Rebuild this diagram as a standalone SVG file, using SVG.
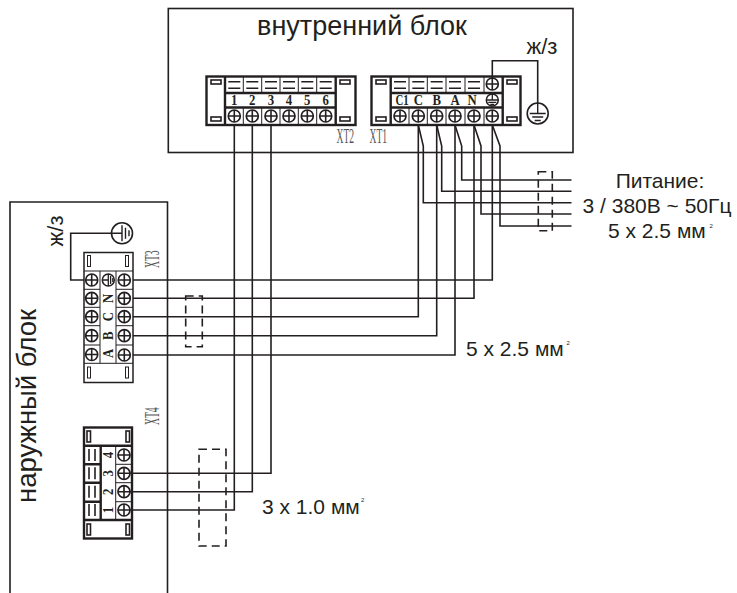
<svg xmlns="http://www.w3.org/2000/svg" width="737" height="593" viewBox="0 0 737 593">
<style>
.w{fill:none;stroke:#231f20;stroke-width:1.6}
.b{fill:none;stroke:#231f20;stroke-width:2.4}
.t{fill:none;stroke:#231f20;stroke-width:1}
.d{fill:none;stroke:#231f20;stroke-width:1.6;stroke-dasharray:8 5}
.l{font-family:"Liberation Sans",Arial,sans-serif;fill:#231f20}
.s{font-family:"Liberation Serif","Times New Roman",serif;fill:#231f20}
.n{font-weight:bold;font-size:15px;text-anchor:middle}
.x{font-size:20px;fill:#555}
</style>
<defs>
<g id="sc"><circle r="6" fill="#fff" stroke="#231f20" stroke-width="1.7"/><path d="M-6 0H6M0-6V6" stroke="#231f20" stroke-width="1.6"/></g>
<g id="eq"><path d="M-6-3.300H6M-6 3.300H6" stroke="#231f20" stroke-width="1.6"/></g>
<g id="gr"><circle r="10.500" fill="#fff" stroke="#231f20" stroke-width="1.6"/><path d="M-8 0H8M-5.500 3.500H5.500M-3 7H3M0-10.500V0" stroke="#231f20" stroke-width="1.4" fill="none"/></g>
<g id="gs"><circle r="6" fill="#fff" stroke="#231f20" stroke-width="1.500"/><path d="M-6 0H6M-4 2.300H4M-2 4.500H2M0-6V0" stroke="#231f20" stroke-width="1.300"/></g>
</defs>

<g id="indoor-unit">
<rect x="168.300" y="8.500" width="404.700" height="144" class="w"/>
<text x="362" y="35" text-anchor="middle" class="l" font-size="27">внутренний блок</text>
</g>

<g id="outdoor-unit">
<path d="M10 593V202H167.500V593" class="w"/>
<text transform="translate(36 406) rotate(-90)" text-anchor="middle" class="l" font-size="27.500">наружный блок</text>
</g>

<g id="connectors">
<path class="w" d="M234.300 125V510H124M252.300 125V491.700H124M271 125V473.300H124"/>
<path class="w" d="M492.300 125V280H124M474 125V298.300H124M418.300 125V316.700H124M436.700 125V335.700H124M455 125V355H124"/>
<path class="w" d="M418.300 125L423.300 146V202.700H571.500M436.700 125L441.700 146V191.300H571.500M455 125L461.700 146V180H571.500M474 125L481 146V214H571.500M492.300 125L500 146V226H571.500"/>
<path class="w" d="M492.300 83V60.700H537.700V103"/>
<path class="w" d="M91.700 280H70.700V233.300H112"/>
</g>

<g id="cable-marks">
<rect x="538.300" y="171.700" width="14" height="59" class="d"/>
<rect x="185.700" y="296" width="16.600" height="50.700" class="d"/>
<rect x="199" y="449.300" width="27" height="96.700" class="d"/>
</g>

<g id="XT2">
<rect x="206.500" y="76.500" width="149" height="48.500" fill="#fff" class="b"/>
<path class="b" d="M225 76.500V125M335.700 76.500V125M225 93H335.700M225 107.500H335.700"/>
<path class="t" d="M243.300 76.500V93M261.700 76.500V93M280 76.500V93M298.300 76.500V93M316.700 76.500V93M243.300 107.500V125M261.700 107.500V125M280 107.500V125M298.300 107.500V125M316.700 107.500V125"/>
<use href="#eq" x="234.300" y="85"/><use href="#eq" x="252.300" y="85"/><use href="#eq" x="271" y="85"/><use href="#eq" x="289" y="85"/><use href="#eq" x="307.300" y="85"/><use href="#eq" x="325.700" y="85"/>
<rect x="211" y="80" width="10" height="4" class="w"/><rect x="211" y="117" width="10" height="4" class="w"/><rect x="340" y="80" width="10" height="4" class="w"/><rect x="340" y="117" width="10" height="4" class="w"/>
<text transform="translate(234.300 105) scale(.85 1)" class="s n">1</text><text transform="translate(252.300 105) scale(.85 1)" class="s n">2</text><text transform="translate(271 105) scale(.85 1)" class="s n">3</text><text transform="translate(289 105) scale(.85 1)" class="s n">4</text><text transform="translate(307.300 105) scale(.85 1)" class="s n">5</text><text transform="translate(325.700 105) scale(.85 1)" class="s n">6</text>
<use href="#sc" x="234.300" y="116"/><use href="#sc" x="252.300" y="116"/><use href="#sc" x="271" y="116"/><use href="#sc" x="289" y="116"/><use href="#sc" x="307.300" y="116"/><use href="#sc" x="325.700" y="116"/>
<text transform="translate(336.500 143) scale(.48 1)" class="s x">XT2</text>
</g>

<g id="XT1">
<rect x="371.500" y="76.500" width="149" height="48.500" fill="#fff" class="b"/>
<path class="b" d="M390.700 76.500V125M502.700 76.500V125M390.700 93H502.700M390.700 107.500H502.700"/>
<path class="t" d="M409 76.500V93M427.300 76.500V93M446 76.500V93M465 76.500V93M484 76.500V93M409 107.500V125M427.300 107.500V125M446 107.500V125M465 107.500V125M484 107.500V125"/>
<use href="#eq" x="400" y="85"/><use href="#eq" x="418.300" y="85"/><use href="#eq" x="436.700" y="85"/><use href="#eq" x="455" y="85"/><use href="#eq" x="474" y="85"/>
<use href="#sc" x="492.300" y="84"/>
<rect x="376" y="80" width="10" height="4" class="w"/><rect x="376" y="117" width="10" height="4" class="w"/><rect x="507" y="80" width="10" height="4" class="w"/><rect x="507" y="117" width="10" height="4" class="w"/>
<text transform="translate(402 105) scale(.72 1)" class="s n">C1</text><text transform="translate(418.300 105) scale(.85 1)" class="s n">C</text><text transform="translate(436.700 105) scale(.85 1)" class="s n">B</text><text transform="translate(455 105) scale(.85 1)" class="s n">A</text><text transform="translate(472 105) scale(.85 1)" class="s n">N</text>
<use href="#gs" x="492.300" y="100"/>
<use href="#sc" x="400" y="116"/><use href="#sc" x="418.300" y="116"/><use href="#sc" x="436.700" y="116"/><use href="#sc" x="455" y="116"/><use href="#sc" x="474" y="116"/><use href="#sc" x="492.300" y="116"/>
<text transform="translate(369.500 143) scale(.48 1)" class="s x">XT1</text>
</g>

<g id="earth-indoor">
<use href="#gr" x="537.700" y="113.500"/>
<text x="542" y="54" text-anchor="middle" class="l" font-size="22">ж/з</text>
</g>

<g id="earth-outdoor">
<use href="#gr" transform="translate(122 233.300) rotate(-90)"/>
<text transform="translate(63 231) rotate(-90)" text-anchor="middle" class="l" font-size="22">ж/з</text>
</g>

<g id="XT3">
<rect x="84" y="252.500" width="49" height="130" fill="#fff" stroke="#231f20" stroke-width="1.500"/>
<path class="t" d="M84 271H133M84 289.300H100M116 289.300H133M84 307.300H100M116 307.300H133M84 325.700H100M116 325.700H133M84 345H100M116 345H133M84 363.300H133M100 271V363.300M116 271V363.300"/>
<rect x="87.500" y="255.500" width="3" height="11" class="t"/><rect x="125.500" y="255.500" width="3" height="11" class="t"/><rect x="87.500" y="367" width="3" height="11" class="t"/><rect x="125.500" y="367" width="3" height="11" class="t"/>
<use href="#sc" x="91.700" y="280"/><use href="#sc" x="91.700" y="298.300"/><use href="#sc" x="91.700" y="316.700"/><use href="#sc" x="91.700" y="335.700"/><use href="#sc" x="91.700" y="354.500"/>
<use href="#sc" x="124.300" y="280"/><use href="#sc" x="124.300" y="298.300"/><use href="#sc" x="124.300" y="316.700"/><use href="#sc" x="124.300" y="335.700"/><use href="#sc" x="124.300" y="355"/>
<use href="#gs" transform="translate(108.300 280) rotate(-90)"/>
<text transform="translate(113 298.300) rotate(-90) scale(.85 1)" class="s n">N</text><text transform="translate(113 316.700) rotate(-90) scale(.85 1)" class="s n">C</text><text transform="translate(113 335.700) rotate(-90) scale(.85 1)" class="s n">B</text><text transform="translate(113 353.500) rotate(-90) scale(.85 1)" class="s n">A</text>
<text transform="translate(159 268) rotate(-90) scale(.48 1)" class="s x">XT3</text>
</g>

<g id="XT4">
<rect x="84" y="427.500" width="48" height="111" fill="#fff" class="b"/>
<path class="b" d="M84 445.700H132M84 520H132M100.700 445.700V520M84 464.300H100.700M84 482.700H100.700M84 501.700H100.700"/>
<path class="t" d="M115.700 445.700V520M115.700 464.300H132M115.700 482.700H132M115.700 501.700H132"/>
<rect x="87" y="431" width="3.500" height="11" class="w"/><rect x="126" y="431" width="3.500" height="11" class="w"/><rect x="87" y="524" width="3.500" height="11" class="w"/><rect x="126" y="524" width="3.500" height="11" class="w"/>
<path d="M89 449V461M95 449V461M89 467.300V479.300M95 467.300V479.300M89 485.700V497.700M95 485.700V497.700M89 504V516M95 504V516" stroke="#231f20" stroke-width="1.600"/>
<text transform="translate(113 455) rotate(-90) scale(.85 1)" class="s n">4</text><text transform="translate(113 473.300) rotate(-90) scale(.85 1)" class="s n">3</text><text transform="translate(113 491.700) rotate(-90) scale(.85 1)" class="s n">2</text><text transform="translate(113 510) rotate(-90) scale(.85 1)" class="s n">1</text>
<use href="#sc" x="124" y="455"/><use href="#sc" x="124" y="473.300"/><use href="#sc" x="124" y="491.700"/><use href="#sc" x="124" y="510"/>
<text transform="translate(159 425) rotate(-90) scale(.48 1)" class="s x">XT4</text>
</g>

<g id="labels">
<text x="660" y="188" text-anchor="middle" class="l" font-size="21">Питание:</text>
<text x="657" y="213" text-anchor="middle" class="l" font-size="21">3 / 380В ~ 50Гц</text>
<text x="608" y="238" class="l" font-size="21">5 x 2.5 мм</text><text x="709.500" y="228" class="l" font-size="6">2</text>
<text x="466" y="356" class="l" font-size="21">5 x 2.5 мм</text><text x="566.500" y="345" class="l" font-size="6">2</text>
<text x="262" y="514" class="l" font-size="21">3 x 1.0 мм</text><text x="361" y="502" class="l" font-size="6">2</text>
</g>
</svg>
